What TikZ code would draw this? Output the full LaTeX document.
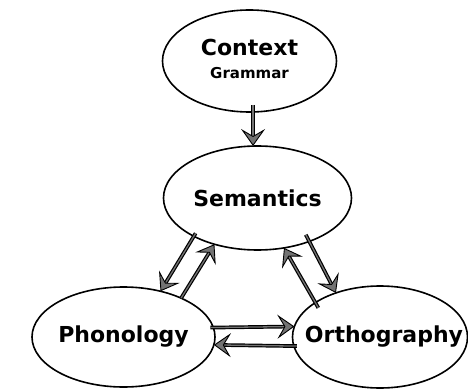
\documentclass[tikz,border=0pt]{standalone}
\usepackage{fontspec}
\setmainfont{DejaVu Sans}
\usetikzlibrary{shapes.geometric,arrows.meta}

\tikzset{
  bubble/.style={ellipse, draw=black, line width=1.6pt, inner sep=0pt, outer sep=0pt},
  bigtext/.style={font=\bfseries\fontsize{22}{26}\selectfont},
  link/.style={line width=1.2pt, draw=black, double=black!55, double distance=1.3pt,
    -{Stealth[length=17pt, width=24pt, inset=7pt, fill=black!55, line width=0.9pt]}}
}

\begin{document}
\begin{tikzpicture}[x=1pt, y=-1pt]
  \useasboundingbox (0,0) rectangle (468,390);

  % the four components
  \node[bubble, minimum width=174pt, minimum height=102pt] (ctx) at (249.5,61) {};
  \node[font=\bfseries\fontsize{22}{26}\selectfont, anchor=base] (ctxname) at (249.5,56) {Context};
  \node[font=\bfseries\fontsize{15}{17}\selectfont, anchor=base] (ctxsub) at (249.5,79) {Grammar};
  \node[bubble, minimum width=188pt, minimum height=104pt,
        label={[bigtext]center:Semantics}] (sem) at (257.5,198) {};
  \node[bubble, minimum width=183pt, minimum height=100pt,
        label={[bigtext]center:Phonology}] (pho) at (123.5,337) {};
  \node[bubble, minimum width=175pt, minimum height=102pt,
        label={[bigtext, xshift=4pt]center:Orthography}] (orth) at (380,337) {};

  % context feeds semantics
  \draw[link, shorten <=-7pt] (ctx.-86.5) -- (ctx.-86.5 |- sem.north);

  % semantics <-> phonology
  \draw[link, shorten <=-3.5pt] (sem.-149.5) -- (pho.51.6);
  \draw[link] (pho.34.6) -- (sem.-133.4);

  % semantics <-> orthography
  \draw[link, shorten <=-7.5pt] (sem.-40.5) -- (orth.135);
  \draw[link, shorten <=-6pt] (orth.152.2) -- (sem.-62.5);

  % phonology <-> orthography
  \draw[link, shorten <=-3pt] (pho.6.4) -- (orth.173.4);
  \draw[link, shorten <=-3pt] (orth.-174.7) -- (pho.-5.1);
\end{tikzpicture}
\end{document}
